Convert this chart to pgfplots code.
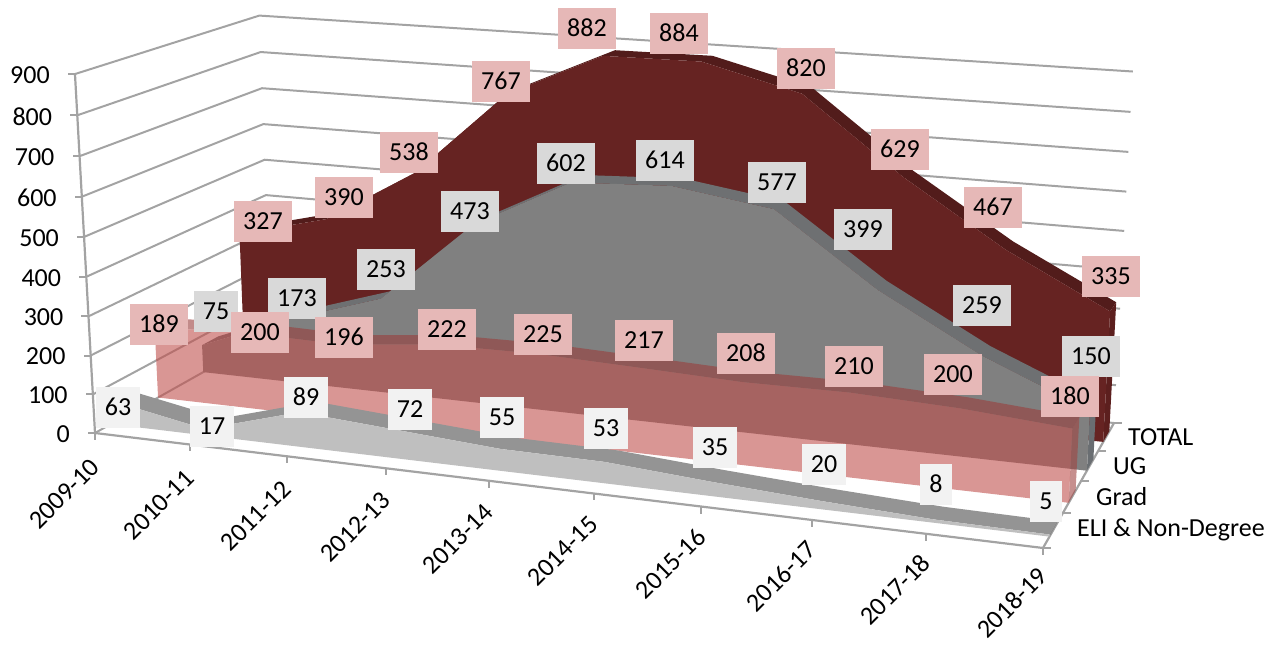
\documentclass[border=0pt]{standalone}
\usepackage{fontspec}
\setmainfont{Carlito}
\usepackage{pgfplots}
\usepackage{pgfplotstable}
\pgfplotsset{compat=1.18}
% projection of (u across, d depth, v value) to picture pixels
\newcommand\PW[3]{(1-0.11257*(#1)+0.13404*(#2)-0.037*(#3)/900)}
\newcommand\PX[3]{((830.6*(#1)+212.3*(#2)+95-22.8*(#3)/900)/\PW{#1}{#2}{#3})}
\newcommand\PY[3]{((53.3*(#1)-54.2*(#2)+433-361.7*(#3)/900)/\PW{#1}{#2}{#3})}
\definecolor{gridc}{HTML}{A3A3A3}
\definecolor{totF}{HTML}{662322}\definecolor{totB}{HTML}{521C1B}\definecolor{totC}{HTML}{5C1F1E}
\definecolor{ugF}{HTML}{808080}\definecolor{ugB}{HTML}{6E7072}\definecolor{ugC}{HTML}{6A6E72}
\definecolor{grF}{HTML}{C0504D}\definecolor{grB}{HTML}{9A3E3C}\definecolor{grC}{HTML}{A04442}
\definecolor{elF}{HTML}{BFBFBF}\definecolor{elB}{HTML}{949494}\definecolor{elC}{HTML}{8A8A8A}
\definecolor{lbP}{HTML}{E6B8B7}\definecolor{lbG}{HTML}{D9D9D9}\definecolor{lbL}{HTML}{F2F2F2}
\pgfplotstableread{
i v f
0 327 0
1 390 0
2 538 0
3 767 0
4 882 0
5 884 0
6 820 0
7 629 0
8 467 0
9 335 0
9 335 1
8 467 1
7 629 1
6 820 1
5 884 1
4 882 1
3 767 1
2 538 1
1 390 1
0 327 1
}\tblTotal
\pgfplotstableread{
i v f
0 75 0
1 173 0
2 253 0
3 473 0
4 602 0
5 614 0
6 577 0
7 399 0
8 259 0
9 150 0
9 150 1
8 259 1
7 399 1
6 577 1
5 614 1
4 602 1
3 473 1
2 253 1
1 173 1
0 75 1
}\tblUG
\pgfplotstableread{
i v f
0 189 0
1 200 0
2 196 0
3 222 0
4 225 0
5 217 0
6 208 0
7 210 0
8 200 0
9 180 0
9 180 1
8 200 1
7 210 1
6 208 1
5 217 1
4 225 1
3 222 1
2 196 1
1 200 1
0 189 1
}\tblGrad
\pgfplotstableread{
i v f
0 63 0
1 17 0
2 89 0
3 72 0
4 55 0
5 53 0
6 35 0
7 20 0
8 8 0
9 5 0
9 5 1
8 8 1
7 20 1
6 35 1
5 53 1
4 55 1
3 72 1
2 89 1
1 17 1
0 63 1
}\tblEli
\pgfplotstableread{
f g
0 1
1 1
1 0
0 0
}\tblCap
\pgfplotstableread{
a b
0 0
0 1
1 1
}\tblGrid
\pgfplotstableread{
o p
0 0
1 0
}\tblTick
\pgfplotstableread{
x y t
263 221 327
344 197 390
409 152 538
501 81 767
587 28 882
679 33 884
806 68 820
900 149 629
993 207 467
1111 276 335
}\lblTotal
\pgfplotstableread{
x y t
216 311 75
297 298 173
386 269 253
470 211 473
566 163 602
665 160 614
777 182 577
863 229 399
982 305 259
1091 356 150
}\lblUG
\pgfplotstableread{
x y t
159 324 189
260 332 200
344 337 196
447 329 222
543 334 225
644 340 217
746 353 208
854 366 210
953 374 200
1070 396 180
}\lblGrad
\pgfplotstableread{
x y t
118 407 63
212 426 17
306 397 89
410 409 72
502 417 55
606 428 53
715 447 35
824 464 20
936 484 8
1046 501 5
}\lblEli
\pgfplotstableread{
v w
0 0
100 0
200 0
300 0
400 0
500 0
600 0
700 0
800 0
900 0
}\tblVal
\pgfplotstableread{
i t
0 2009-10
1 2010-11
2 2011-12
3 2012-13
4 2013-14
5 2014-15
6 2015-16
7 2016-17
8 2017-18
9 2018-19
}\tblCat
\pgfplotstableread{
x y t
1128 437 TOTAL
1113 466 UG
1096 497 Grad
1077 530 {ELI \& Non-Degree}
}\tblDepth
% table, front depth, face, band, cap, opacity, last value
\newcommand\drawseries[7]{%
  \addplot[fill=#4,draw=none,fill opacity=#6] table[
    x expr={\PX{\thisrow{i}/9}{#2+\thisrow{f}*0.095}{\thisrow{v}}},
    y expr={\PY{\thisrow{i}/9}{#2+\thisrow{f}*0.095}{\thisrow{v}}}]{#1};
  \addplot[fill=#5,draw=none,fill opacity=#6] table[
    x expr={\PX{1}{#2+\thisrow{f}*0.095}{#7*\thisrow{g}}},
    y expr={\PY{1}{#2+\thisrow{f}*0.095}{#7*\thisrow{g}}}]{\tblCap};
  \addplot[fill=#3,draw=none,fill opacity=#6] table[
    x expr={\PX{\thisrow{i}/9}{#2}{\thisrow{v}*(1-\thisrow{f})}},
    y expr={\PY{\thisrow{i}/9}{#2}{\thisrow{v}*(1-\thisrow{f})}}]{#1};
}
\newcommand\drawlabels[2]{%
  \addplot[draw=none,mark=none,point meta=explicit symbolic,
    nodes near coords,
    nodes near coords style={anchor=center,fill=#2,text=black,inner sep=0pt,
      minimum height=41pt,minimum width=0pt,inner xsep=9pt,opacity=1}]
    table[x=x,y=y,meta=t]{#1};
}
\begin{document}
\begin{tikzpicture}[x=1pt,y=1pt,font=\fontsize{26}{30}\selectfont]
\path[use as bounding box] (0,0) rectangle (1275pt,645pt);
\begin{axis}[at={(0,0)},anchor=south west,scale only axis,width=1275pt,height=645pt,
  xmin=0,xmax=1275,ymin=0,ymax=645,y dir=reverse,hide axis,clip=false,
  nodes near coords align={center}]
% gridlines on the walls
\pgfplotsinvokeforeach{0,100,...,900}{
  \addplot[gridc,line width=2pt] table[
    x expr={\PX{\thisrow{a}}{\thisrow{b}}{#1}},
    y expr={\PY{\thisrow{a}}{\thisrow{b}}{#1}}]{\tblGrid};
  \addplot[gridc,line width=2pt] table[
    x expr={\PX{0}{0}{#1}-7*\thisrow{o}},
    y expr={\PY{0}{0}{#1}}]{\tblTick};
}
% axis lines
\addplot[gridc,line width=2.2pt] table[
    x expr={\PX{0}{0}{900*\thisrow{o}}},
    y expr={\PY{0}{0}{900*\thisrow{o}}}]{\tblTick};
\addplot[gridc,line width=2.2pt] table[
    x expr={\PX{\thisrow{o}}{0}{0}},
    y expr={\PY{\thisrow{o}}{0}{0}}]{\tblTick};
\addplot[gridc,line width=2.2pt] table[
    x expr={\PX{1}{\thisrow{o}}{0}},
    y expr={\PY{1}{\thisrow{o}}{0}}]{\tblTick};
\pgfplotsinvokeforeach{0,...,9}{
  \addplot[gridc,line width=2pt] table[
    x expr={\PX{#1/9}{0}{0}},
    y expr={\PY{#1/9}{0}{0}+7*\thisrow{o}}]{\tblTick};
}
\pgfplotsinvokeforeach{0,0.25,0.5,0.75,1}{
  \addplot[gridc,line width=2pt] table[
    x expr={\PX{1}{#1}{0}+8*\thisrow{o}},
    y expr={\PY{1}{#1}{0}}]{\tblTick};
}
% series, back to front
\drawseries{\tblTotal}{0.83}{totF}{totB}{totC}{1}{335}
\drawseries{\tblUG}{0.585}{ugF}{ugB}{ugC}{1}{150}
\drawseries{\tblGrad}{0.33}{grF}{grB}{grC}{0.6}{180}
\drawseries{\tblEli}{0.08}{elF}{elB}{elC}{1}{5}
% data labels
\drawlabels{\lblTotal}{lbP}
\drawlabels{\lblUG}{lbG}
\drawlabels{\lblGrad}{lbP}
\drawlabels{\lblEli}{lbL}
% value axis labels
\addplot[draw=none,mark=none,point meta=explicit symbolic,nodes near coords,
  nodes near coords style={anchor=east,text=black,inner sep=0pt}]
  table[x expr={\PX{0}{0}{\thisrow{v}}-25},y expr={\PY{0}{0}{\thisrow{v}}+1},meta=v]{\tblVal};
% category labels
\addplot[draw=none,mark=none,point meta=explicit symbolic,nodes near coords,
  nodes near coords style={anchor=east,rotate=45,text=black,inner sep=0pt}]
  table[x expr={\PX{\thisrow{i}/9}{0}{0}},y expr={\PY{\thisrow{i}/9}{0}{0}+24+6*(1-\thisrow{i}/9)},meta=t]{\tblCat};
% depth labels
\addplot[draw=none,mark=none,point meta=explicit symbolic,nodes near coords,
  nodes near coords style={anchor=west,text=black,inner sep=0pt}]
  table[x=x,y=y,meta=t]{\tblDepth};
\end{axis}
\end{tikzpicture}
\end{document}
